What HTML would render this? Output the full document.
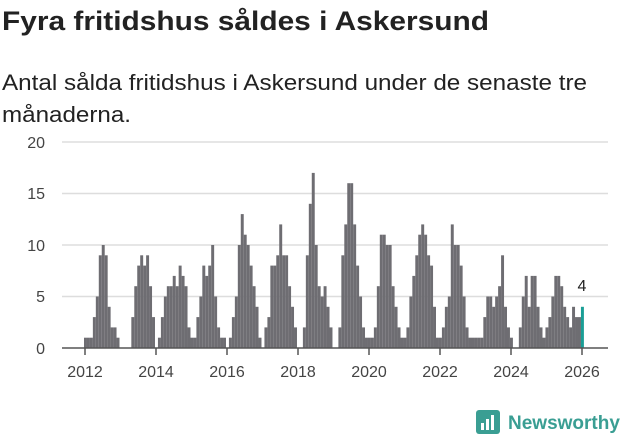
<!DOCTYPE html>
<html><head><meta charset="utf-8"><style>
body{margin:0;width:631px;height:439px;background:#fff;overflow:hidden;font-family:"Liberation Sans",sans-serif;color:#222}
</style></head><body>
<svg width="631" height="439" xmlns="http://www.w3.org/2000/svg" font-family="Liberation Sans, sans-serif">
<text x="2" y="30" font-size="27" font-weight="bold" fill="#222" textLength="487" lengthAdjust="spacingAndGlyphs">Fyra fritidshus såldes i Askersund</text>
<text x="2" y="90" font-size="22" fill="#222" textLength="585" lengthAdjust="spacingAndGlyphs">Antal sålda fritidshus i Askersund under de senaste tre</text>
<text x="2" y="122" font-size="22" fill="#222" textLength="129" lengthAdjust="spacingAndGlyphs">månaderna.</text>
<g stroke="#ddd" stroke-width="1.5">
<line x1="62" x2="608" y1="142" y2="142"/><line x1="62" x2="608" y1="193.5" y2="193.5"/>
<line x1="62" x2="608" y1="245" y2="245"/><line x1="62" x2="608" y1="296.5" y2="296.5"/>
</g>
<g font-size="16" fill="#444" text-anchor="end">
<text x="45" y="148">20</text><text x="45" y="199">15</text><text x="45" y="251">10</text><text x="45" y="302">5</text><text x="45" y="354">0</text>
</g>
<g id="bars"></g>
<line x1="62" x2="608" y1="348" y2="348" stroke="#555" stroke-width="1.5"/>
<g stroke="#555" stroke-width="1.5" id="ticks"></g>
<g font-size="16" fill="#444" text-anchor="middle" id="xl"></g>
<text x="582" y="291" font-size="16" fill="#222" text-anchor="middle">4</text>
<g transform="translate(476,410)">
<rect x="0" y="0" width="24" height="24" rx="3" fill="#3a9e93"/>
<rect x="5" y="13" width="3" height="7" fill="#fff"/><rect x="10" y="9" width="3" height="11" fill="#fff"/><rect x="15" y="5" width="3" height="15" fill="#fff"/>
<text x="32" y="19" font-size="19" font-weight="bold" fill="#3a9e93">Newsworthy</text>
</g>
</svg>
<script>
var d=[1,1,1,3,5,9,10,9,4,2,2,1,
0,0,0,0,3,6,8,9,8,9,6,3,
0,1,3,5,6,6,7,6,8,7,6,2,
1,1,3,5,8,7,8,10,5,2,1,1,
0,1,3,5,10,13,11,10,8,6,4,1,
0,2,3,8,8,9,12,9,9,6,4,2,
0,0,2,9,14,17,10,6,5,6,4,2,
0,0,2,9,12,16,16,12,8,5,2,1,
1,1,2,6,11,11,10,10,6,4,2,1,
1,2,5,7,9,11,12,11,9,8,4,1,
1,2,4,5,12,10,10,8,5,2,1,1,
1,1,1,3,5,5,4,5,6,9,4,2,
1,0,0,2,5,7,4,7,7,4,2,1,
2,3,5,7,7,6,4,3,2,4,3,3,4];
var s='';
for(var i=0;i<d.length;i++){var h=d[i]*10.3;if(!h)continue;
s+='<rect x="'+(84+i*2.958).toFixed(2)+'" y="'+(348-h).toFixed(1)+'" width="2.96" height="'+h.toFixed(1)+'" fill="'+(i==d.length-1?'#1a9e96':'#6e6d72')+'"/>';}
document.getElementById('bars').innerHTML=s;
var t='',l='';for(var y=2012;y<=2026;y+=2){var x=85+(y-2012)*35.5;t+='<line x1="'+x+'" x2="'+x+'" y1="348" y2="355"/>';l+='<text x="'+x+'" y="377">'+y+'</text>';}
document.getElementById('ticks').innerHTML=t;document.getElementById('xl').innerHTML=l;
</script>
</body></html>
